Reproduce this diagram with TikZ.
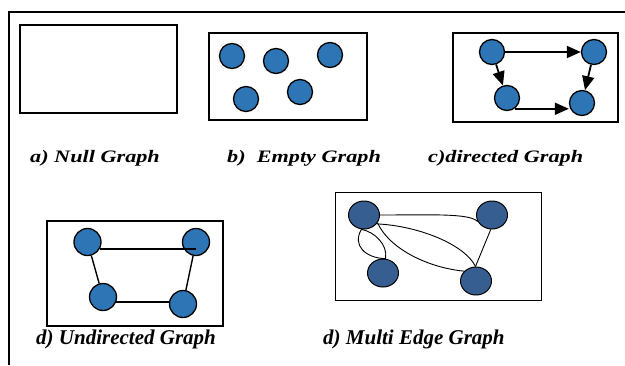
\documentclass[tikz,border=0pt]{standalone}
\usepackage{fontspec}
\setmainfont{Liberation Serif}
\newfontfamily\widefont[FakeStretch=1.27]{Liberation Serif}
\usetikzlibrary{arrows.meta,shapes.geometric}
\definecolor{nodeblue}{RGB}{46,117,182}
\definecolor{darkblue}{RGB}{55,94,145}
\tikzset{
  frame/.style={draw=black,line width=1.5pt},
  panel/.style={draw=black,line width=1.6pt},
  dot/.style={circle,draw=black,line width=1.3pt,fill=nodeblue,minimum size=25pt,inner sep=0pt},
  udot/.style={circle,draw=black,line width=1.3pt,fill=nodeblue,minimum size=27pt,inner sep=0pt},
  edot/.style={ellipse,draw=black,line width=1pt,fill=darkblue,minimum width=31pt,minimum height=28pt,inner sep=0pt},
  arr/.style={line width=1.8pt,-{Triangle[length=14pt,width=12pt]}},
  uedge/.style={line width=1.4pt},
  medge/.style={line width=0.9pt},
  toplabel/.style={anchor=base west,inner sep=0pt,font=\widefont\fontsize{17.5}{19}\selectfont\bfseries\itshape},
  botlabel/.style={anchor=base west,inner sep=0pt,font=\fontsize{21}{23}\selectfont\bfseries\itshape},
}
\begin{document}
\begin{tikzpicture}[x=1pt,y=-1pt]
\useasboundingbox (0,0) rectangle (625,365);
% outer frame
\draw[frame] (625,12) -- (9,12) -- (9,365);
% a) Null graph
\draw[panel] (20,25) rectangle (177,113);
\node[toplabel] (la) at (30,162.5) {a) Null Graph};
% b) Empty graph
\draw[panel,line width=1.3pt] (209,33) rectangle (367,120);
\node[dot] (e1) at (232,56) {};
\node[dot] (e2) at (276,61) {};
\node[dot] (e3) at (330,55) {};
\node[dot] (e4) at (246,99) {};
\node[dot] (e5) at (300,92) {};
\node[toplabel] (lb) at (227,162.5) {b)\ \ Empty Graph};
% c) directed graph
\draw[panel,line width=1.3pt] (453,33) rectangle (618,122);
\node[dot] (d1) at (492,52) {};
\node[dot] (d2) at (594,52) {};
\node[dot] (d3) at (507,98) {};
\node[dot] (d4) at (582,103) {};
\draw[arr] (d1) -- (d2);
\draw[arr] (d1) -- (d3);
\draw[arr] (d2) -- (d4);
\draw[arr] (d3.-55) -- (d3.-55 -| d4.west);
\node[toplabel] (lc) at (428,162.5) {c)directed Graph};
% d) undirected graph
\draw[panel,line width=1.3pt] (47,221) rectangle (223,326);
\node[udot] (u1) at (87.5,242) {};
\node[udot] (u2) at (196,242) {};
\node[udot] (u3) at (103,297) {};
\node[udot] (u4) at (183,304) {};
\draw[uedge] (u1.-30) -- (u1.-30 -| u2.center);
\draw[uedge] (u1) -- (u3);
\draw[uedge] (u2) -- (u4);
\draw[uedge] (u3.-20) -- (u3.-20 -| u4.west);
\node[botlabel] (ld) at (36,344) {d) Undirected Graph};
% d) multi edge graph
\draw[draw=black,line width=1pt] (335,192) rectangle (541,300);
\node[edot] (m1) at (364,215) {};
\node[edot] (m2) at (492,215) {};
\node[edot] (m3) at (383,273) {};
\node[edot] (m4) at (476,281) {};
\draw[medge] (m1.east) .. controls (430,215) and (470,213) .. (m2.205);
\draw[medge] (m1.-35) .. controls (420,226) and (465,245) .. (m4.92);
\draw[medge] (m1.-30) .. controls (390,250) and (430,268) .. (m4.140);
\draw[medge] (m1.-100) .. controls (352,245) and (365,258) .. (m3.80);
\draw[medge] (m1.-100) .. controls (375,232) and (388,245) .. (m3.80);
\draw[medge] (m2.-95) -- (m4.92);
\node[botlabel] (le) at (323,344) {d) Multi Edge Graph};
\end{tikzpicture}
\end{document}
